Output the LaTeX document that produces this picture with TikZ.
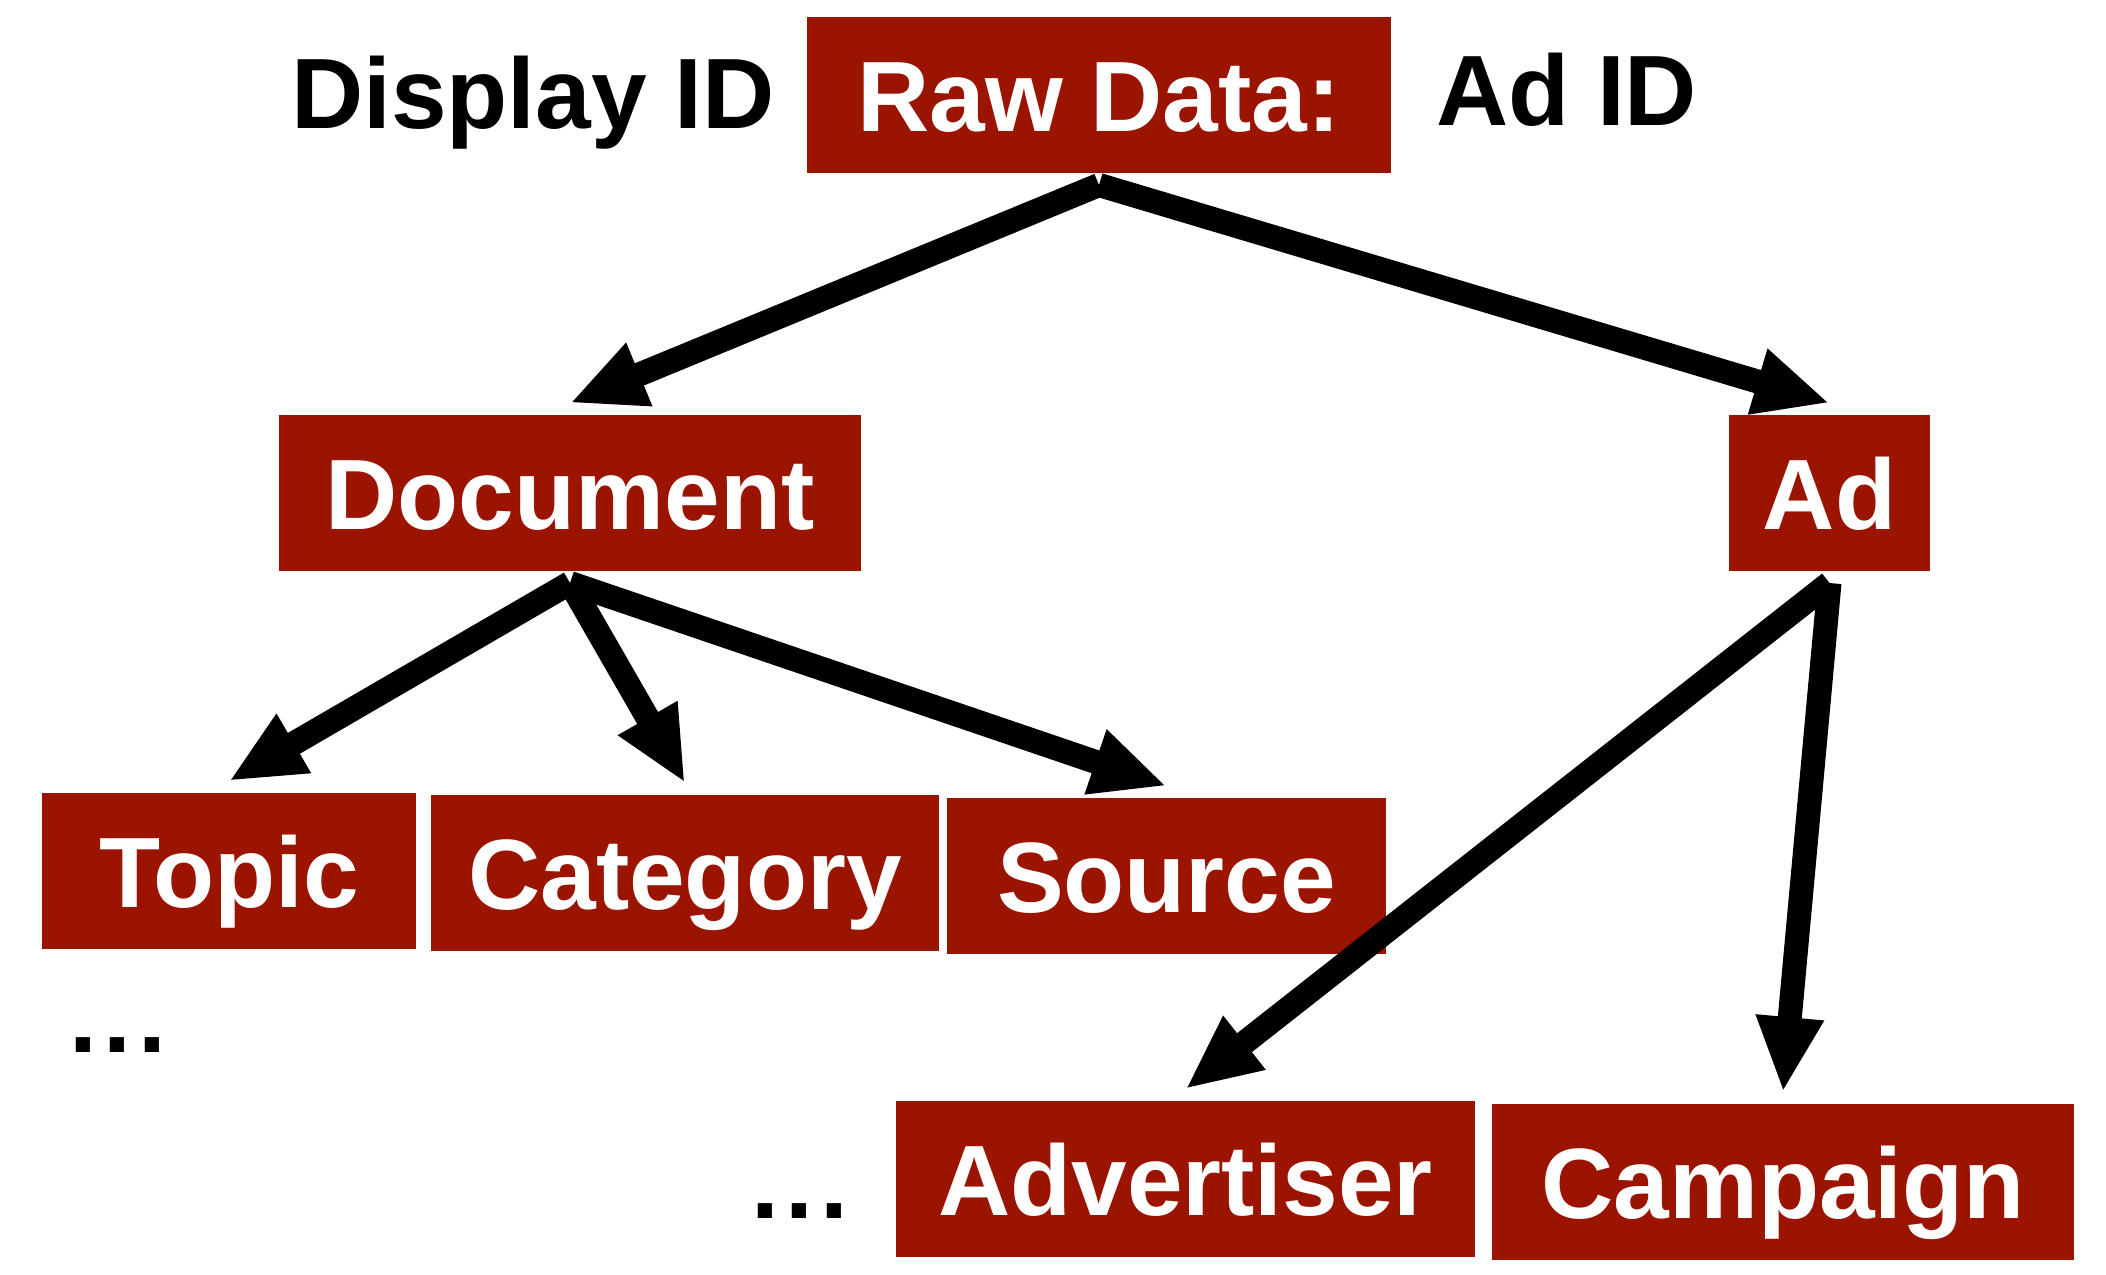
\documentclass[tikz,border=0pt]{standalone}
\usepackage{fontspec}
\setmainfont{Liberation Sans}
\usepackage{tikz}
\usetikzlibrary{arrows.meta, positioning}
\definecolor{fieldred}{RGB}{154,20,0}

\begin{document}
\begin{tikzpicture}[x=1pt, y=-1pt, -{Triangle[length=75pt,width=63pt]}, line width=24pt,
    field/.style={fill=fieldred, text=white, inner sep=0pt, minimum height=156pt,
      text height=72pt, text depth=0pt, font=\fontsize{100}{110}\selectfont\bfseries},
    word/.style={text=black, inner sep=0pt, font=\fontsize{100}{110}\selectfont\bfseries}]
  \useasboundingbox (0,0) rectangle (2106,1274);

  \node[field, minimum width=584pt] (raw)    at (1099,95)     {Raw Data:};
  \node[word, anchor=base west]     (dispid) at (279,128)     {Display ID};
  \node[word, anchor=base west]     (adid)   at (1424,125)    {Ad ID};

  \node[field, minimum width=582pt] (doc)    at (570,493)     {Document};
  \node[field, minimum width=201pt] (ad)     at (1829.5,493)  {Ad};

  \node[field, minimum width=374pt] (topic)  at (229,871)     {Topic};
  \node[field, minimum width=508pt] (cat)    at (685,873)     {Category};
  \node[field, minimum width=439pt] (src)    at (1166.5,876)  {Source};
  \node[word, anchor=base west]     (dotsl)  at (57,1052)     {.\kern7pt.\kern7pt.};

  \node[field, minimum width=579pt] (adv)    at (1185.5,1179) {Advertiser};
  \node[field, minimum width=582pt] (camp)   at (1783,1182)   {Campaign};
  \node[word, anchor=base west]     (dotsr)  at (739,1218)    {.\kern7pt.\kern7pt.};

  % raw data split
  \path
    (raw.south) edge (doc.north)
    (raw.south) edge (ad.north);
  % document features
  \path
    (doc.south) edge (topic.north)
    (doc.south) edge (cat.north)
    (doc.south) edge (src.north);
  % ad features
  \path
    (ad.south) edge (adv.north)
    (ad.south) edge (camp.north);
\end{tikzpicture}
\end{document}
